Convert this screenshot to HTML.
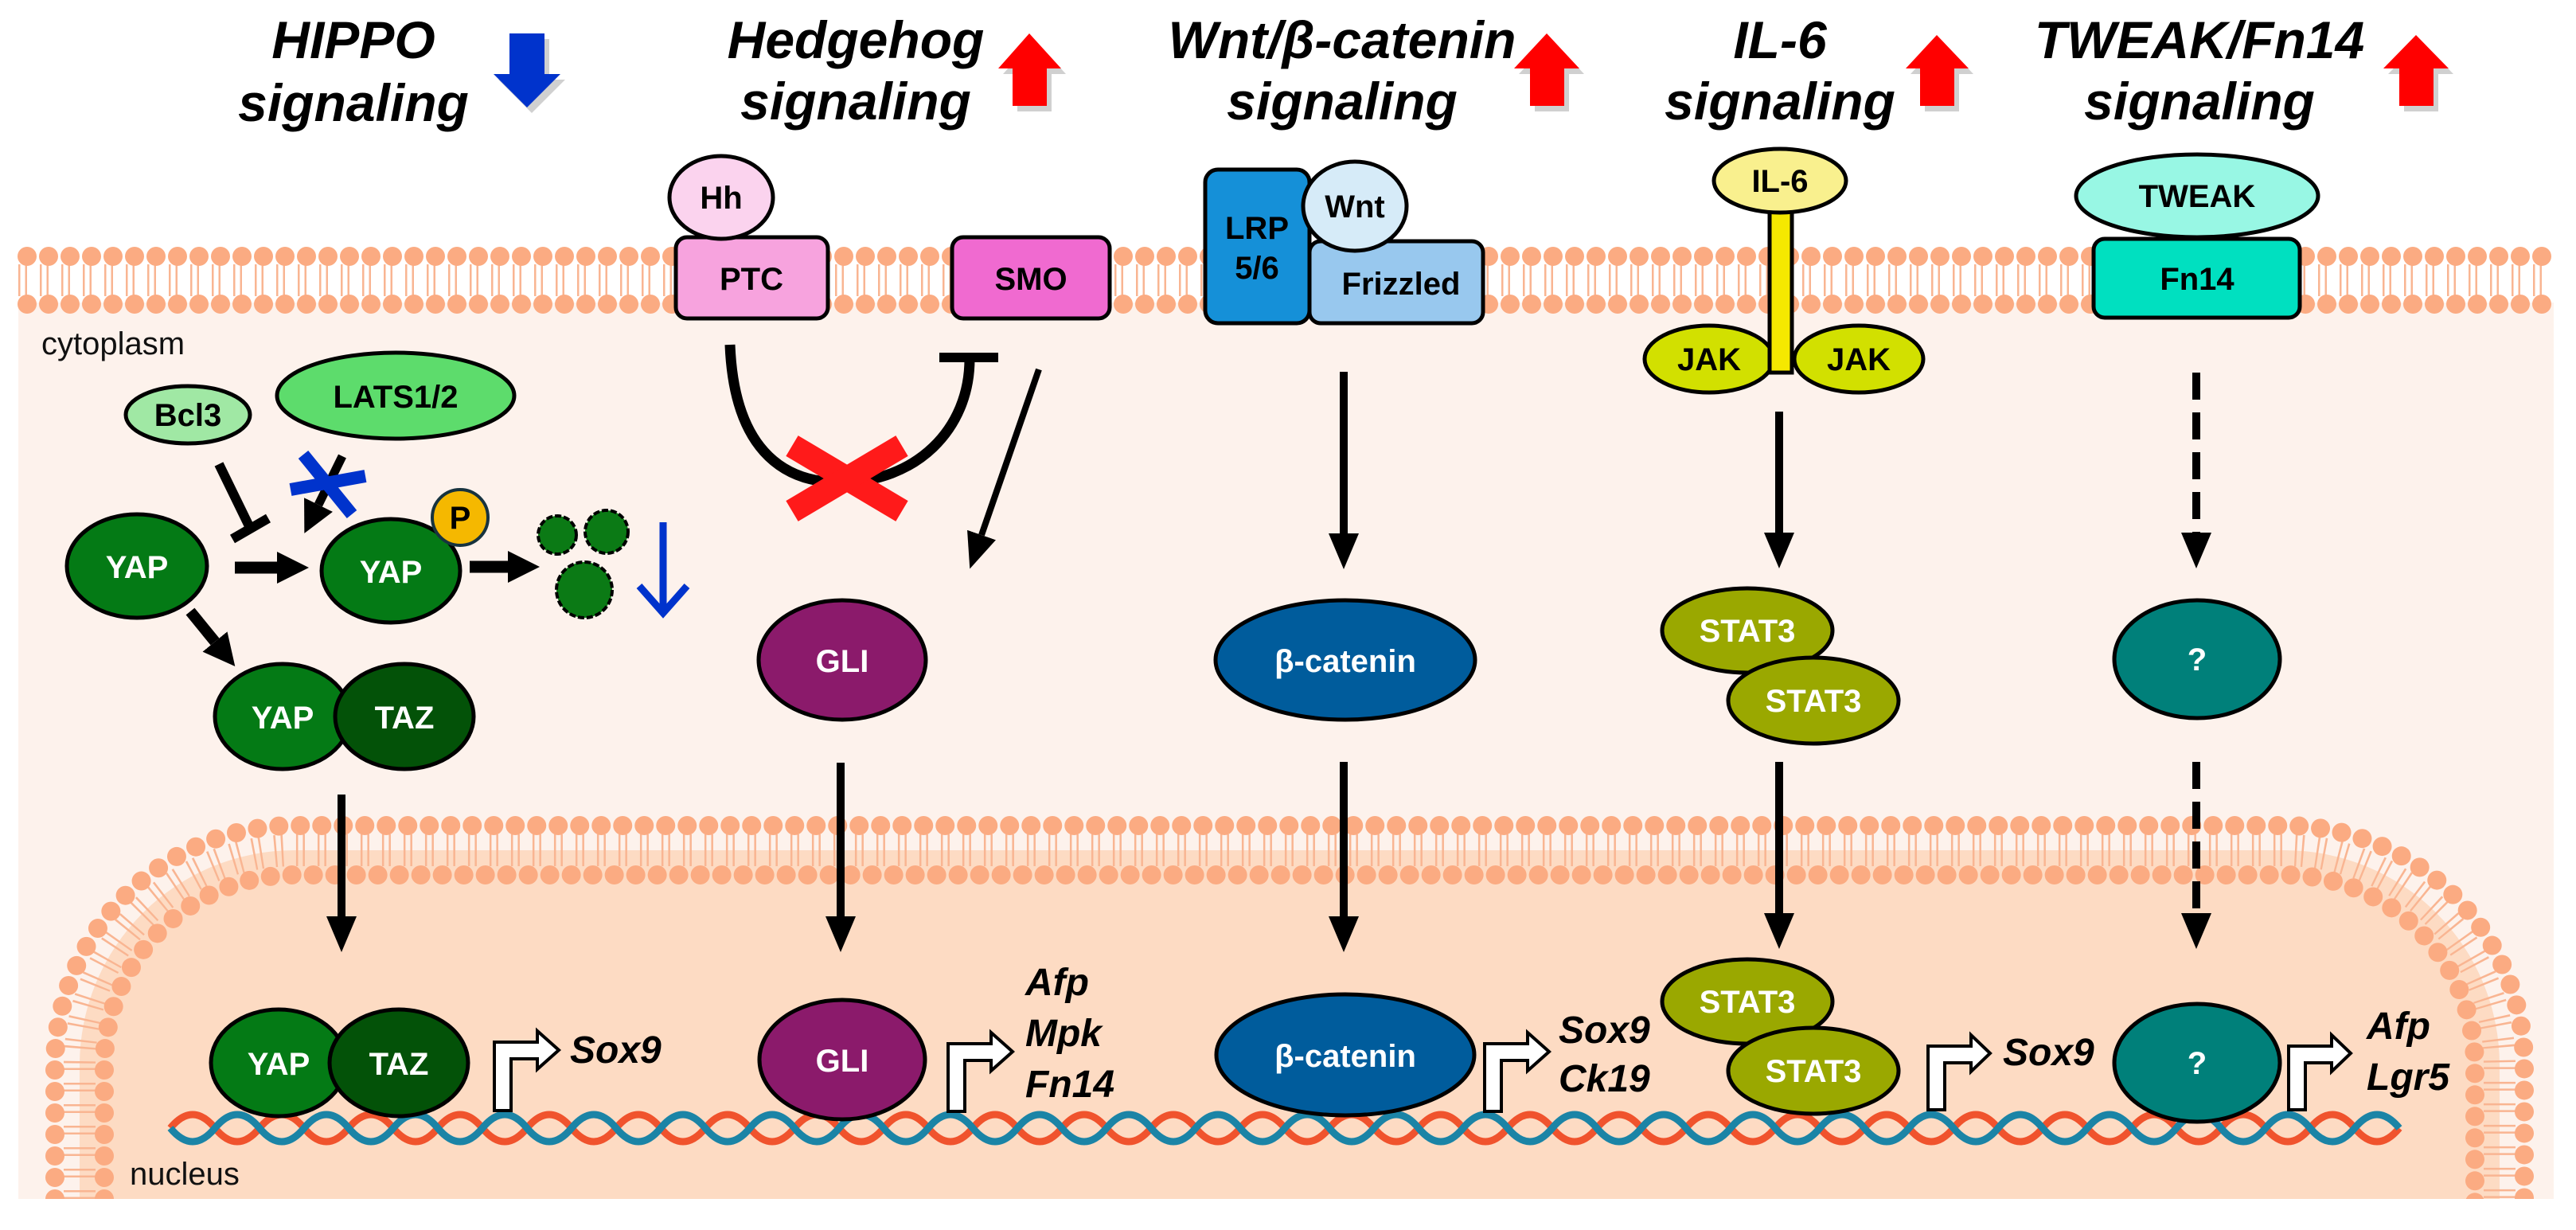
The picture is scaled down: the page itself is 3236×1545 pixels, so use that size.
<!DOCTYPE html>
<html><head><meta charset="utf-8"><style>
html,body{margin:0;padding:0;background:#fff}
svg{display:block}
text{font-family:"Liberation Sans",Arial,sans-serif}
.t{font-weight:bold;font-style:italic;font-size:66px;text-anchor:middle;fill:#000}
.n{font-weight:bold;font-size:40px;text-anchor:middle}
.g{font-weight:bold;font-style:italic;font-size:48px;fill:#000}
.w{fill:#fff}
.ol{stroke:#000;stroke-width:5}
</style></head><body>
<svg width="3236" height="1545" viewBox="0 0 3236 1545" xmlns="http://www.w3.org/2000/svg">
<defs>
<marker id="ah" viewBox="0 0 45 38" refX="0" refY="19" markerWidth="45" markerHeight="38" markerUnits="userSpaceOnUse" orient="auto"><path d="M0,0 L45,19 L0,38 z" fill="#000"/></marker>
<marker id="ah2" viewBox="0 0 40 40" refX="0" refY="20" markerWidth="40" markerHeight="40" markerUnits="userSpaceOnUse" orient="auto"><path d="M0,0 L40,20 L0,40 z" fill="#000"/></marker>
<clipPath id="cell"><rect x="23" y="300" width="3185" height="1206"/></clipPath>
</defs>

<rect x="23" y="380" width="3185" height="1126" fill="#fdf2ec"/>
<g>
<path d="M23,352 H3208" stroke="#f9b592" stroke-width="40" stroke-dasharray="2.5 6 2.5 16" fill="none"/>
<path d="M34,322 H3208" stroke="#fbab82" stroke-width="24" stroke-dasharray="0 27" stroke-linecap="round" fill="none"/>
<path d="M34,382 H3208" stroke="#fbab82" stroke-width="24" stroke-dasharray="0 27" stroke-linecap="round" fill="none"/>
</g>

<g clip-path="url(#cell)">
<path d="M100,1560 V1338 A270,270 0 0 1 370,1068 H2870 A270,270 0 0 1 3140,1338 V1560 Z" fill="#fddbc3"/>
<path d="M100,1560 V1338 A270,270 0 0 1 370,1068 H2870 A270,270 0 0 1 3140,1338 V1560" fill="none" stroke="#f9b592" stroke-width="40" stroke-dasharray="2.5 6 2.5 16"/>
<path d="M69,1560 V1338 A301,301 0 0 1 370,1037 H2870 A301,301 0 0 1 3171,1338 V1560" fill="none" stroke="#fbab82" stroke-width="24" stroke-dasharray="0 27" stroke-linecap="round"/>
<path d="M131,1560 V1338 A239,239 0 0 1 370,1099 H2870 A239,239 0 0 1 3109,1338 V1560" fill="none" stroke="#fbab82" stroke-width="24" stroke-dasharray="0 27" stroke-linecap="round"/>
</g>

<path d="M214,1417 q28,-34 56,0 t56,0 t56,0 t56,0 t56,0 t56,0 t56,0 t56,0 t56,0 t56,0 t56,0 t56,0 t56,0 t56,0 t56,0 t56,0 t56,0 t56,0 t56,0 t56,0 t56,0 t56,0 t56,0 t56,0 t56,0 t56,0 t56,0 t56,0 t56,0 t56,0 t56,0 t56,0 t56,0 t56,0 t56,0 t56,0 t56,0 t56,0 t56,0 t56,0 t56,0 t56,0 t56,0 t56,0 t56,0 t56,0 t56,0 t56,0 t56,0 t56,0" fill="none" stroke="#f0532d" stroke-width="9"/>
<path d="M214,1417 q28,34 56,0 t56,0 t56,0 t56,0 t56,0 t56,0 t56,0 t56,0 t56,0 t56,0 t56,0 t56,0 t56,0 t56,0 t56,0 t56,0 t56,0 t56,0 t56,0 t56,0 t56,0 t56,0 t56,0 t56,0 t56,0 t56,0 t56,0 t56,0 t56,0 t56,0 t56,0 t56,0 t56,0 t56,0 t56,0 t56,0 t56,0 t56,0 t56,0 t56,0 t56,0 t56,0 t56,0 t56,0 t56,0 t56,0 t56,0 t56,0 t56,0 t56,0" fill="none" stroke="#1b84a6" stroke-width="9"/>

<text x="52" y="445" font-size="40" fill="#111">cytoplasm</text>
<text x="163" y="1488" font-size="40" fill="#111">nucleus</text>

<text class="t" x="444" y="73">HIPPO</text><text class="t" x="444" y="152">signaling</text>
<text class="t" x="1075" y="73">Hedgehog</text><text class="t" x="1075" y="150">signaling</text>
<text class="t" x="1686" y="73">Wnt/β-catenin</text><text class="t" x="1686" y="150">signaling</text>
<text class="t" x="2236" y="73">IL-6</text><text class="t" x="2236" y="150">signaling</text>
<text class="t" x="2763" y="73">TWEAK/Fn14</text><text class="t" x="2763" y="150">signaling</text>

<g fill="#777" opacity="0.35" transform="translate(6,7)">
<polygon points="640,42 684,42 684,93 704,93 662,135 620,93 640,93"/>
<polygon points="1293,42 1333,86 1315,86 1315,133 1272,133 1272,86 1254,86"/>
<polygon points="1943,42 1984,86 1965,86 1965,133 1922,133 1922,86 1902,86"/>
<polygon points="2433,44 2473,86 2455,86 2455,133 2412,133 2412,86 2394,86"/>
<polygon points="3035,44 3076,86 3057,86 3057,133 3014,133 3014,86 2994,86"/>
</g>
<polygon points="640,42 684,42 684,93 704,93 662,135 620,93 640,93" fill="#0033cc"/>
<g fill="#ff0000">
<polygon points="1293,42 1333,86 1315,86 1315,133 1272,133 1272,86 1254,86"/>
<polygon points="1943,42 1984,86 1965,86 1965,133 1922,133 1922,86 1902,86"/>
<polygon points="2433,44 2473,86 2455,86 2455,133 2412,133 2412,86 2394,86"/>
<polygon points="3035,44 3076,86 3057,86 3057,133 3014,133 3014,86 2994,86"/>
</g>

<ellipse cx="236" cy="521" rx="78" ry="36" fill="#a0e8a4" class="ol"/>
<text class="n" x="236" y="535">Bcl3</text>
<ellipse cx="497" cy="497" rx="149" ry="54" fill="#5ddc6c" class="ol"/>
<text class="n" x="497" y="512">LATS1/2</text>
<line x1="275" y1="583" x2="314" y2="663" stroke="#000" stroke-width="12"/>
<line x1="292" y1="677" x2="337" y2="651" stroke="#000" stroke-width="12"/>
<line x1="430" y1="573" x2="400" y2="634" stroke="#000" stroke-width="11" marker-end="url(#ah2)"/>
<line x1="381" y1="571" x2="442" y2="646" stroke="#0033cc" stroke-width="16"/>
<line x1="365" y1="615" x2="459" y2="598" stroke="#0033cc" stroke-width="16"/>
<ellipse cx="172" cy="711" rx="88" ry="65" fill="#047a15" class="ol"/>
<text class="n w" x="172" y="726">YAP</text>
<line x1="295" y1="713" x2="348" y2="713" stroke="#000" stroke-width="15" marker-end="url(#ah2)"/>
<ellipse cx="491" cy="717" rx="87" ry="65" fill="#047a15" class="ol"/>
<text class="n w" x="491" y="732">YAP</text>
<circle cx="578" cy="650" r="35" fill="#f5b800" stroke="#17333f" stroke-width="4"/>
<text class="n" x="578" y="664" font-size="38">P</text>
<line x1="590" y1="712" x2="638" y2="712" stroke="#000" stroke-width="15" marker-end="url(#ah2)"/>
<g fill="#0b7a15" stroke="#000" stroke-width="4">
<circle cx="700" cy="672" r="24" stroke-dasharray="8 3"/>
<circle cx="762" cy="668" r="27" stroke-dasharray="8 3"/>
<circle cx="734" cy="741" r="35" stroke-dasharray="8 3"/>
</g>
<line x1="833" y1="656" x2="833" y2="764" stroke="#0033cc" stroke-width="9"/>
<path d="M803,736 L833,770 L863,736" fill="none" stroke="#0033cc" stroke-width="9"/>
<line x1="239" y1="768" x2="270" y2="806" stroke="#000" stroke-width="14" marker-end="url(#ah2)"/>
<ellipse cx="355" cy="900" rx="85" ry="66" fill="#047a15" class="ol"/>
<ellipse cx="508" cy="900" rx="87" ry="66" fill="#035208" class="ol"/>
<text class="n w" x="355" y="915">YAP</text><text class="n w" x="508" y="915">TAZ</text>
<line x1="429" y1="998" x2="429" y2="1151" stroke="#000" stroke-width="10" marker-end="url(#ah)"/>
<ellipse cx="350" cy="1335" rx="85" ry="67" fill="#047a15" class="ol"/>
<ellipse cx="501" cy="1335" rx="87" ry="67" fill="#035208" class="ol"/>
<text class="n w" x="350" y="1350">YAP</text><text class="n w" x="501" y="1350">TAZ</text>

<g fill="#fff" stroke="#000" stroke-width="4">
<polygon points="621,1395 621,1309 675,1309 675,1295 702,1319 675,1343 675,1330 642,1330 642,1395"/>
<polygon points="1191,1396 1191,1311 1245,1311 1245,1297 1272,1321 1245,1345 1245,1332 1212,1332 1212,1396"/>
<polygon points="1865,1396 1865,1311 1919,1311 1919,1297 1946,1321 1919,1345 1919,1332 1886,1332 1886,1396"/>
<polygon points="2422,1394 2422,1314 2476,1314 2476,1300 2500,1323 2476,1346 2476,1335 2443,1335 2443,1394"/>
<polygon points="2875,1394 2875,1314 2929,1314 2929,1300 2953,1323 2929,1346 2929,1335 2896,1335 2896,1394"/>
</g>
<text class="g" x="716" y="1335">Sox9</text>
<text class="g" x="1288" y="1250">Afp</text><text class="g" x="1288" y="1314">Mpk</text><text class="g" x="1288" y="1378">Fn14</text>
<text class="g" x="1958" y="1310">Sox9</text><text class="g" x="1958" y="1371">Ck19</text>
<text class="g" x="2516" y="1338">Sox9</text>
<text class="g" x="2973" y="1305">Afp</text><text class="g" x="2973" y="1369">Lgr5</text>

<rect x="849" y="298" width="191" height="102" rx="14" fill="#f7a3de" class="ol"/>
<text class="n" x="944" y="364">PTC</text>
<ellipse cx="906" cy="248" rx="65" ry="52" fill="#fbd3ee" class="ol"/>
<text class="n" x="906" y="262">Hh</text>
<rect x="1196" y="298" width="198" height="102" rx="14" fill="#f06ad0" class="ol"/>
<text class="n" x="1295" y="364">SMO</text>
<path d="M917,433 C922,560 980,606 1055,606 C1150,606 1218,540 1218,451" fill="none" stroke="#000" stroke-width="13"/>
<line x1="1180" y1="449" x2="1254" y2="449" stroke="#000" stroke-width="12"/>
<line x1="995" y1="560" x2="1133" y2="642" stroke="#ff1a1a" stroke-width="30"/>
<line x1="995" y1="642" x2="1133" y2="560" stroke="#ff1a1a" stroke-width="30"/>
<line x1="1305" y1="464" x2="1233" y2="672" stroke="#000" stroke-width="8" marker-end="url(#ah)"/>
<ellipse cx="1058" cy="829" rx="105" ry="75" fill="#8b1a6b" class="ol"/>
<text class="n w" x="1058" y="844">GLI</text>
<line x1="1056" y1="958" x2="1056" y2="1151" stroke="#000" stroke-width="10" marker-end="url(#ah)"/>
<ellipse cx="1058" cy="1331" rx="104" ry="75" fill="#8b1a6b" class="ol"/>
<text class="n w" x="1058" y="1346">GLI</text>

<rect x="1645" y="303" width="218" height="103" rx="14" fill="#98c8ee" class="ol"/>
<text class="n" x="1760" y="370">Frizzled</text>
<rect x="1514" y="213" width="131" height="193" rx="16" fill="#1590d8" class="ol"/>
<text class="n" x="1579" y="300">LRP</text><text class="n" x="1579" y="350">5/6</text>
<ellipse cx="1702" cy="259" rx="65" ry="56" fill="#d6ebf8" class="ol"/>
<text class="n" x="1702" y="273">Wnt</text>
<line x1="1688" y1="467" x2="1688" y2="670" stroke="#000" stroke-width="10" marker-end="url(#ah)"/>
<ellipse cx="1690" cy="829" rx="163" ry="75" fill="#005c9c" class="ol"/>
<text class="n w" x="1690" y="844">β-catenin</text>
<line x1="1688" y1="957" x2="1688" y2="1151" stroke="#000" stroke-width="10" marker-end="url(#ah)"/>
<ellipse cx="1690" cy="1325" rx="162" ry="76" fill="#005c9c" class="ol"/>
<text class="n w" x="1690" y="1340">β-catenin</text>

<ellipse cx="2147" cy="451" rx="81" ry="42" fill="#d2e000" class="ol"/>
<ellipse cx="2335" cy="451" rx="81" ry="42" fill="#d2e000" class="ol"/>
<text class="n" x="2147" y="465">JAK</text><text class="n" x="2335" y="465">JAK</text>
<rect x="2223" y="262" width="28" height="206" fill="#f5e800" class="ol"/>
<ellipse cx="2236" cy="227" rx="83" ry="40" fill="#f9f08e" class="ol"/>
<text class="n" x="2236" y="241">IL-6</text>
<line x1="2235" y1="517" x2="2235" y2="669" stroke="#000" stroke-width="10" marker-end="url(#ah)"/>
<ellipse cx="2195" cy="792" rx="107" ry="53" fill="#9aa800" class="ol"/>
<text class="n w" x="2195" y="806">STAT3</text>
<ellipse cx="2278" cy="880" rx="107" ry="54" fill="#9aa800" class="ol"/>
<text class="n w" x="2278" y="894">STAT3</text>
<line x1="2235" y1="957" x2="2235" y2="1147" stroke="#000" stroke-width="10" marker-end="url(#ah)"/>
<ellipse cx="2195" cy="1258" rx="107" ry="53" fill="#9aa800" class="ol"/>
<text class="n w" x="2195" y="1272">STAT3</text>
<ellipse cx="2278" cy="1345" rx="107" ry="54" fill="#9aa800" class="ol"/>
<text class="n w" x="2278" y="1359">STAT3</text>

<rect x="2630" y="300" width="259" height="99" rx="14" fill="#00e0c0" class="ol"/>
<text class="n" x="2760" y="364">Fn14</text>
<ellipse cx="2760" cy="246" rx="152" ry="52" fill="#98f7e4" class="ol"/>
<text class="n" x="2760" y="260">TWEAK</text>
<line x1="2759" y1="468" x2="2759" y2="669" stroke="#000" stroke-width="10" stroke-dasharray="34 16" marker-end="url(#ah)"/>
<ellipse cx="2760" cy="828" rx="104" ry="74" fill="#00807a" class="ol"/>
<text class="n w" x="2760" y="842">?</text>
<line x1="2759" y1="957" x2="2759" y2="1147" stroke="#000" stroke-width="10" stroke-dasharray="34 16" marker-end="url(#ah)"/>
<ellipse cx="2760" cy="1335" rx="104" ry="74" fill="#00807a" class="ol"/>
<text class="n w" x="2760" y="1349">?</text>
</svg>
</body></html>
